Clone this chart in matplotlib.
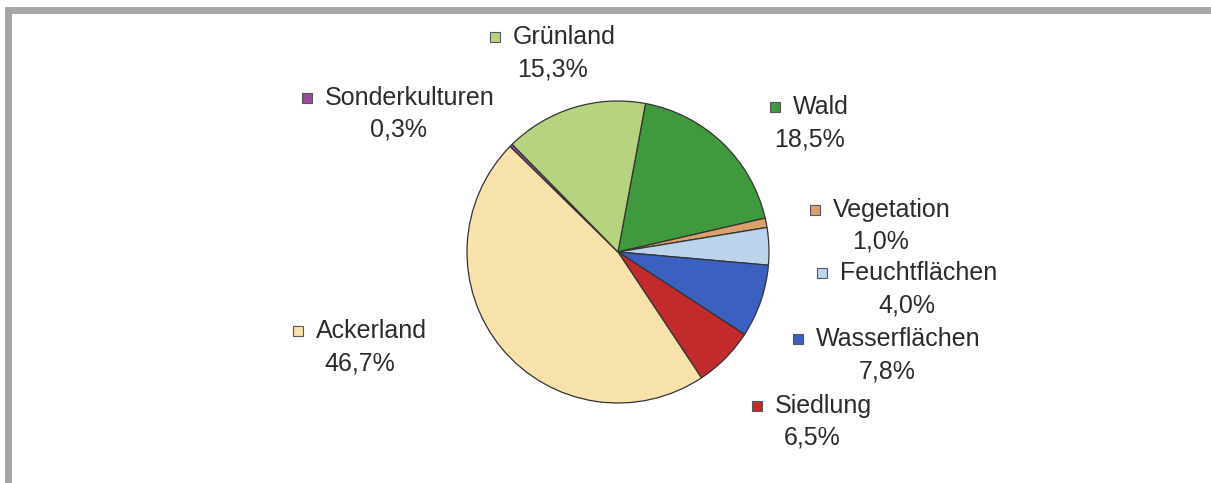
import matplotlib.pyplot as plt
from matplotlib.patches import Rectangle

plt.rcParams['font.family'] = ['Liberation Sans', 'DejaVu Sans']

# Anteile der Flächennutzung (im Uhrzeigersinn ab Wald)
kategorien = ['Wald', 'Vegetation', 'Feuchtflächen', 'Wasserflächen',
              'Siedlung', 'Ackerland', 'Sonderkulturen', 'Grünland']
anteile = [18.5, 1.0, 4.0, 7.8, 6.5, 46.7, 0.3, 15.3]
farben = ['#3f9a3e', '#dca06a', '#bcd3ec', '#3b60bf',
          '#c22a2c', '#f7e2ab', '#9a4b9b', '#b6d47f']

# Position der Legendenquadrate (Pixel, von oben gemessen)
label_pos = [(775, 107), (815, 210), (822, 273), (798, 339),
             (757, 406), (298, 331), (307, 98), (495, 37)]

W, H = 1211, 483
fig = plt.figure(figsize=(W / 100, H / 100), dpi=100)
ax = fig.add_axes([0, 0, 1, 1])

# Rahmen
ax.add_patch(Rectangle((8, -5), W, H - 10 - (-5), fill=False,
                       edgecolor='#a6a6a6', linewidth=5))

ax.pie(anteile, colors=farben, startangle=79.5, counterclock=False,
       center=(618, H - 252), radius=151, frame=True,
       wedgeprops=dict(edgecolor='#333333', linewidth=0.9))
ax.set_xlim(0, W)
ax.set_ylim(0, H)
ax.set_aspect('equal')
ax.axis('off')

fig.canvas.draw()
r = fig.canvas.get_renderer()
for name, wert, farbe, (kx, ky) in zip(kategorien, anteile, farben, label_pos):
    y = H - ky
    ax.add_patch(Rectangle((kx - 5, y - 5), 10, 10, facecolor=farbe,
                           edgecolor='#555555', linewidth=0.8))
    t = ax.text(kx + 18, y, name, fontsize=18, color='#2b2b2b',
                ha='left', va='center')
    bb = t.get_window_extent(renderer=r)
    mitte = (kx - 5 + bb.x1) / 2
    ax.text(mitte, y - 32, f'{wert:.1f}%'.replace('.', ','), fontsize=18,
            color='#2b2b2b', ha='center', va='center')

fig.savefig('out.png', dpi=100)
